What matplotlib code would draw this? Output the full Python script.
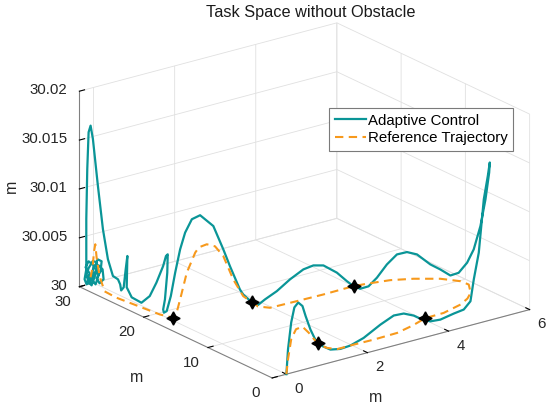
import matplotlib
matplotlib.use("Agg")
import matplotlib.pyplot as plt
from mpl_toolkits.mplot3d import proj3d

plt.rcParams['font.family'] = ['Liberation Sans', 'DejaVu Sans']

# reference trajectory (m)
ref_x = [0.0, 0.08, 0.236, 0.471, 0.787, 1.097, 1.366, 1.54, 1.506, 1.52, 1.638, 2.051,
         2.534, 3.128, 3.615, 4.07, 4.53, 5.076, 5.387, 5.63, 5.875, 5.854, 5.619, 5.196,
         4.78, 4.292, 4.0, 3.247, 2.602, 1.959, 1.813, 1.86, 1.672, 1.447, 1.223, 1.036,
         0.85, 0.677, 0.591, 0.40, 0.25, 0.16, 0.1, -0.006, -0.073, -0.132, -0.107, 0.069,
         -0.005, -0.037, -0.067, -0.104, -0.153]
ref_y = [0.0, 0.25, 0.737, 1.475, 2.463, 3.434, 4.275, 4.82, 3.90, 3.256, 2.441, 2.461,
         2.395, 2.50, 3.184, 4.04, 4.11, 4.93, 5.81, 6.84, 8.69, 9.86, 11.49, 12.99,
         14.0, 14.55, 14.79, 14.72, 14.8, 14.9, 15.85, 17.15, 17.26, 17.40, 17.53, 17.64,
         17.75, 17.86, 17.91, 18.02, 18.11, 18.16, 18.2, 19.66, 22.87, 25.62, 27.61, 29.5,
         29.5, 29.5, 29.5, 29.5, 29.5]
ref_z = [30.0, 30.00137, 30.00309, 30.00362, 30.00323, 30.00196, 30.00071, 30.0, 30.0,
         30.0, 30.0, 30.0, 30.0, 30.0, 30.0, 30.0, 30.0, 30.0, 30.0, 30.0, 30.0, 30.0,
         30.0, 30.0, 30.0, 30.0, 30.0, 30.0, 30.0, 30.0, 30.0, 30.0, 30.00077, 30.00269,
         30.00528, 30.00645, 30.00683, 30.00668, 30.00622, 30.00434, 30.00174, 30.00029,
         30.0, 30.0, 30.0, 30.0, 30.0, 30.00076, 30.00279, 30.00415, 30.00347, 30.00187,
         30.0009]

# adaptive control trajectory (m)
ada_x = [0.0, 0.08, 0.236, 0.391, 0.579, 0.787, 0.942, 1.177, 1.413, 1.506, 1.559, 1.72,
         1.969, 2.29, 2.704, 3.042, 3.338, 3.659, 3.943, 4.184, 4.444, 4.857, 5.222, 5.412,
         5.494, 5.617, 5.741, 5.84, 5.968, 5.953, 5.941, 5.975, 5.968, 5.963, 5.882, 5.788,
         5.619, 5.46, 5.25, 5.078, 4.9, 4.711, 4.501, 4.326, 4.146, 4.0, 3.834, 3.584,
         3.247, 3.004, 2.762, 2.441, 2.12, 1.898, 1.813, 1.86, 1.672, 1.598, 1.372, 1.223,
         0.998, 0.70, 0.514, 0.362, 0.25, 0.139, 0.079, 0.047, 0.026, 0.02, 0.034, 0.052,
         0.055, 0.042, 0.02, -0.016, -0.035, -0.059, -0.087, -0.102, -0.1, -0.105, -0.11,
         -0.118, -0.121, -0.127, -0.125, -0.114, -0.007, -0.052, -0.175, -0.232, -0.281,
         -0.314, -0.338, -0.338,
         -0.301, -0.252, -0.153, -0.178, -0.277, -0.202, -0.079, -0.128, -0.03, 0.044,
         -0.054, 0.02, 0.119, 0.094, -0.005, 0.069, 0.168, 0.143, 0.044, -0.03, -0.104,
         -0.202, -0.227, -0.128, -0.05, 0.02, -0.01, -0.1, -0.2, -0.26, -0.2, -0.1]
ada_y = [0.0, 0.25, 0.737, 1.224, 1.813, 2.463, 2.95, 3.685, 4.42, 3.90, 2.987, 2.445,
         2.457, 2.43, 2.425, 2.485, 2.795, 3.259, 3.744, 3.983, 4.079, 4.601, 5.345, 5.5,
         5.5, 5.5, 5.5, 5.5, 6.0, 6.0, 6.5, 7.5, 8.5, 9.5, 10.3, 11.0,
         11.49, 12.05, 12.8, 13.28, 13.71, 14.08, 14.31, 14.51, 14.67, 14.79, 14.78, 14.75,
         14.72, 14.75, 14.78, 14.83, 14.87, 15.3, 15.85, 17.15, 17.26, 17.31, 17.44, 17.53,
         17.66, 17.84, 17.95, 18.04, 18.11, 18.18, 18.48, 18.92, 19.22, 19.3, 19.11, 18.86,
         18.81, 19.0, 19.3, 20.12, 21.04, 22.18, 23.52, 24.2, 24.11, 24.34, 24.62,
         24.96, 25.1, 25.4, 26.2, 27.05, 28.5, 29.0, 29.0, 29.0, 29.0,
         29.0, 29.0, 29.0,
         29.5, 29.5, 29.5, 29.5, 29.5, 29.5, 29.5, 29.5, 29.5, 29.5,
         29.5, 29.5, 29.5, 29.5, 29.5, 29.5, 29.5, 29.5, 29.5, 29.5, 29.5,
         29.5, 29.5, 29.5, 29.5, 29.5, 29.5, 29.5, 29.5, 29.5, 29.5, 29.5]
ada_z = [30.0, 30.00239, 30.00481, 30.00602, 30.00613, 30.00534, 30.00399, 30.00213,
         30.00061, 30.0, 29.99987, 29.99993, 30.0, 30.00043, 30.00134, 30.00188, 30.00166,
         30.00095, 30.00008, 29.99956, 29.99942, 29.99942, 29.9992, 29.99979,
         30.00193, 30.00453, 30.00986, 30.01214, 30.01322, 30.01221, 30.00933, 30.00624,
         30.00355, 30.00188, 30.00069, 30.0003,
         30.00095, 30.00147, 30.00249, 30.00277, 30.00259, 30.00166, 30.00046, 29.99971,
         29.99961, 30.0, 30.0007, 30.00185, 30.00297, 30.00323, 30.00308, 30.0024,
         30.00153, 30.0008, 30.00015, 30.0, 30.00094, 30.00152, 30.00412, 30.00597,
         30.00856, 30.00994, 30.0097, 30.00847, 30.00686, 30.00458, 30.00215, 30.00051,
         30.00028, 30.00059, 30.00166, 30.00446, 30.00635, 30.00613, 30.00504, 30.00312,
         30.00148, 30.00047, 30.00064, 30.00147, 30.0047, 30.00327, 30.00134, 30.00093,
         30.00151, 30.00194, 30.00203, 30.00347, 30.00597, 30.01031, 30.01523, 30.01666,
         30.01604, 30.01231, 30.00721, 30.00208,
         30.00086, 30.00029, 30.00038, 30.00134, 30.00206, 30.00259, 30.00205, 30.00067,
         30.00004, 30.00089, 30.00181, 30.00255, 30.00224, 30.00124, 30.00063, 30.00004,
         30.00034, 30.00139, 30.00191, 30.00138, 30.00095, 30.00116, 30.00057, 30.00005,
         30.00085, 30.0016, 30.0023, 30.0025, 30.0019, 30.0012, 30.0006, 30.0009]

# waypoints
way_x = [1.54, 4.07, 4.0, 1.86, 0.1]
way_y = [4.82, 4.04, 14.79, 17.15, 18.2]
way_z = [30.0, 30.0, 30.0, 30.0, 30.0]

x_ticks = [0, 2, 4, 6]
y_ticks = [0, 10, 20, 30]
z_ticks = [30.0, 30.005, 30.01, 30.015, 30.02]
z_tick_labels = ['30', '30.005', '30.01', '30.015', '30.02']

teal = '#0a9597'
orange = '#f7991c'
tick_color = '#262626'

fig = plt.figure(figsize=(5.5, 4.09), dpi=100)
ax = fig.add_axes([0.1802, 0.0078, 0.72727, 0.978], projection='3d')
ax.set_proj_type('ortho')
ax.computed_zorder = False
ax.view_init(elev=20.76, azim=-126.83)
ax.set_box_aspect((1, 1, 0.65), zoom=1.215)

l1, = ax.plot(ada_x, ada_y, ada_z, color=teal, lw=1.6, zorder=3,
              label='Adaptive Control', clip_on=False)
l2, = ax.plot(ref_x, ref_y, ref_z, color=orange, lw=1.5, ls=(0, (4, 2.6)), zorder=4,
              label='Reference Trajectory', clip_on=False)
ax.plot(way_x, way_y, way_z, ls='none', marker=(4, 1, 0), ms=9.5, color='black',
        zorder=5, clip_on=False)

ax.set_xlim(-0.35, 6)
ax.set_ylim(0, 30)
ax.set_zlim(30, 30.02)
ax.set_xticks(x_ticks)
ax.set_yticks(y_ticks)
ax.set_zticks(z_ticks)

for axis in (ax.xaxis, ax.yaxis, ax.zaxis):
    axis.set_tick_params(labelbottom=False)
    axis.set_pane_color((1, 1, 1, 0))
    axis.pane.set_edgecolor((1, 1, 1, 0))
    axis.line.set_color('#808080')
    axis.line.set_linewidth(0.8)
    axis._axinfo['grid']['color'] = (0.88, 0.88, 0.88, 1)
    axis._axinfo['grid']['linewidth'] = 0.6
    axis._axinfo['tick']['inward_factor'] = 0.0
    axis._axinfo['tick']['outward_factor'] = 0.25

# tick labels placed MATLAB-style next to the rulers: project the 3D anchor
# points once the view is set, then write plain figure texts there
fig.canvas.draw()


def put_label(x, y, z, s, ha):
    px, py, _ = proj3d.proj_transform(x, y, z, ax.get_proj())
    dx, dy = ax.transData.transform((px, py))
    fig.text(dx / fig.dpi, dy / fig.dpi, s, transform=fig.dpi_scale_trans,
             ha=ha, va='center', fontsize=10.8, color=tick_color)


for t in x_ticks:
    put_label(t - 0.295, -3.74, 30.0, str(t), 'center')
for t in y_ticks:
    put_label(-1.12, t - 2.22, 30.0, str(t), 'center')
for t, s in zip(z_ticks, z_tick_labels):
    put_label(-0.506, 30.885, t, s, 'right')

fig.text(0.565, 0.97, 'Task Space without Obstacle', ha='center', va='center',
         fontsize=11.7, color='#1a1a1a')
fig.text(0.683, 0.027, 'm', ha='center', va='center', fontsize=11.5, color=tick_color)
fig.text(0.249, 0.078, 'm', ha='center', va='center', fontsize=11.5, color=tick_color)
fig.text(0.02, 0.545, 'm', ha='center', va='center', rotation=90, fontsize=11.5,
         color=tick_color)

leg = fig.legend(handles=[l1, l2], loc='upper left',
                 bbox_to_anchor=(329.3 / 550, 1 - 108.3 / 409), fontsize=10.8,
                 handlelength=2.1, handletextpad=0.15, borderpad=0.35,
                 labelspacing=0.25, borderaxespad=0, fancybox=False, framealpha=1)
leg.get_frame().set_edgecolor('#7a7a7a')
leg.get_frame().set_linewidth(0.8)

fig.savefig('out.png', dpi=100)
